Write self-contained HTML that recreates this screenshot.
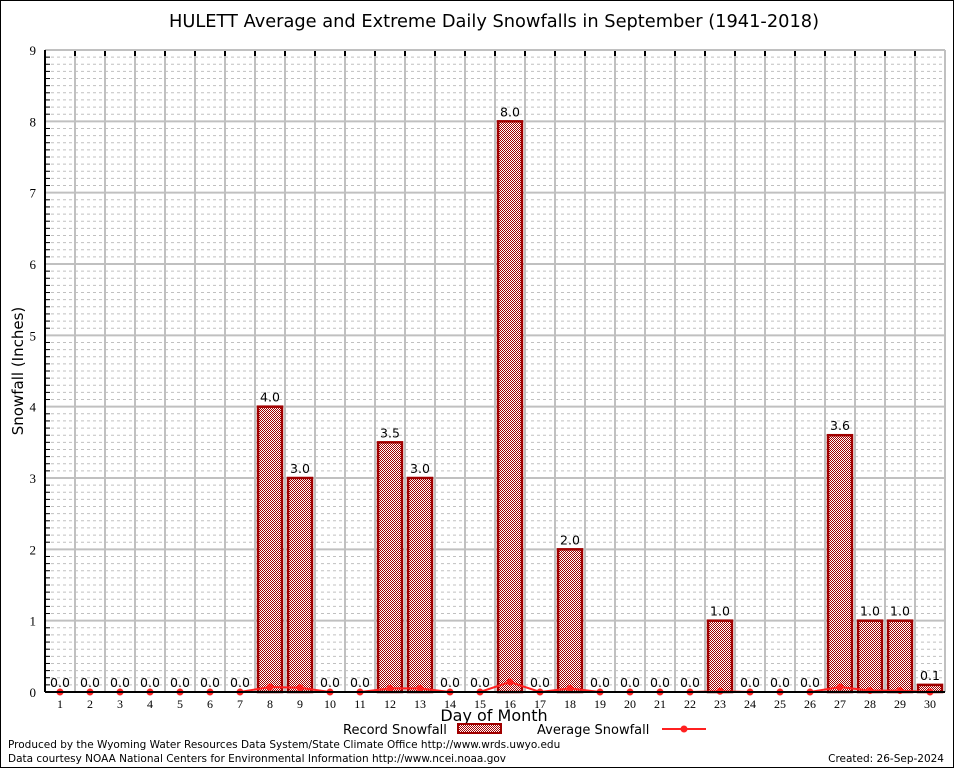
<!DOCTYPE html>
<html><head><meta charset="utf-8"><style>
body{margin:0;background:#fff}
svg{display:block;font-family:"DejaVu Sans","Liberation Sans",sans-serif}
</style></head><body>
<svg id="c" width="954" height="768">
<defs>
<pattern id="chk" width="2" height="2" patternUnits="userSpaceOnUse">
<rect width="2" height="2" fill="#fff"/><rect width="1" height="1" fill="#a00000"/><rect x="1" y="1" width="1" height="1" fill="#a00000"/>
</pattern>
</defs>
<rect x="0.5" y="0.5" width="953" height="767" fill="#fff" stroke="#000"/>
<text x="494" y="27" font-size="17.8" text-anchor="middle">HULETT Average and Extreme Daily Snowfalls in September (1941-2018)</text>
<g id="grid"></g>
<g id="bars"></g>
<g id="avg"></g>
<g id="axes"></g>
<text x="23" y="371" font-size="15" text-anchor="middle" transform="rotate(-90 23 371)">Snowfall (Inches)</text>
<text x="494" y="721" font-size="16" text-anchor="middle">Day of Month</text>
<g>
<text x="343" y="734" font-size="13">Record Snowfall</text>
<rect x="458" y="724" width="43" height="9" fill="url(#chk)" stroke="#a00000" stroke-width="2"/>
<text x="537" y="734" font-size="13">Average Snowfall</text>
<line x1="662" y1="729" x2="706" y2="729" stroke="#ff2020" stroke-width="2"/>
<circle cx="684" cy="729" r="3.5" fill="#ff2020"/>
</g>
<text x="8" y="748" font-size="10.5">Produced by the Wyoming Water Resources Data System/State Climate Office http://www.wrds.uwyo.edu</text>
<text x="8" y="762" font-size="10.5">Data courtesy NOAA National Centers for Environmental Information http://www.ncei.noaa.gov</text>
<text x="944" y="762" font-size="10.5" text-anchor="end">Created: 26-Sep-2024</text>
</svg>
<script>
const days=[1,2,3,4,5,6,7,8,9,10,11,12,13,14,15,16,17,18,19,20,21,22,23,24,25,26,27,28,29,30];
const recordSnow=[0,0,0,0,0,0,0,4.0,3.0,0,0,3.5,3.0,0,0,8.0,0,2.0,0,0,0,0,1.0,0,0,0,3.6,1.0,1.0,0.1];
const avgSnow=[0,0,0,0,0,0,0,0.07,0.06,0,0,0.05,0.05,0,0,0.14,0,0.05,0,0,0,0,0.01,0,0,0,0.07,0.02,0.02,0];
const yTicks=[0,1,2,3,4,5,6,7,8,9];
const PL=45,PR=945,PT=50,PB=692,YMAX=9;
const NS="http://www.w3.org/2000/svg";
const xs=d=>PL+(d-0.5)*(PR-PL)/days.length;
const ys=v=>PB-v*(PB-PT)/YMAX;
function mk(tag,attrs,parent,txt){const e=document.createElementNS(NS,tag);for(const k in attrs)e.setAttribute(k,attrs[k]);if(txt!==undefined)e.textContent=txt;document.getElementById(parent).appendChild(e);return e;}
for(let i=1;i<YMAX*10;i++){if(i%10===0)continue;const y=ys(i/10);
const g=mk('line',{x1:PL,x2:PR,y1:y,y2:y,stroke:'#c0c0c0','stroke-dasharray':'3,3','stroke-width':1},'grid');


const t=mk('line',{x1:PL,x2:PL+5,y1:y,y2:y,stroke:'#000'},'axes');

}
yTicks.forEach(v=>{const y=ys(v);
const g=mk('line',{x1:PL,x2:PR,y1:y,y2:y,stroke:'#c0c0c0','stroke-width':2},'grid');


const t=mk('text',{x:36,y:y+5,'font-size':13,'text-anchor':'end','font-family':'Liberation Serif, serif'},'axes',String(v));

});
for(let k=1;k<days.length;k++){const x=PL+k*(PR-PL)/days.length;
const g=mk('line',{x1:x,x2:x,y1:PT,y2:PB,stroke:'#c0c0c0','stroke-width':2},'grid');


const t=mk('line',{x1:x,x2:x,y1:PT,y2:PT+6,stroke:'#000','stroke-width':2},'axes');

}
mk('line',{x1:PR,x2:PR,y1:PT,y2:PB,stroke:'#c0c0c0','stroke-width':2},'grid');
days.forEach((d,i)=>{const v=recordSnow[i];const x=xs(d);
if(v>0){const b=mk('rect',{x:x-12,y:ys(v),width:24,height:PB-ys(v),fill:'url(#chk)',stroke:'#a00000','stroke-width':2.5},'bars');

}
const lb=mk('text',{x:x,y:ys(v)-5,'font-size':12.5,'text-anchor':'middle'},'bars',v.toFixed(1));


const xt=mk('text',{x:x,y:PB+16,'font-size':12,'text-anchor':'middle','font-family':'Liberation Serif, serif'},'axes',String(d));

});
const pts=days.map((d,i)=>xs(d)+','+ys(avgSnow[i])).join(' ');
const pl=mk('polyline',{points:pts,fill:'none',stroke:'#ff2020','stroke-width':2},'avg');


days.forEach((d,i)=>{const c=mk('circle',{cx:xs(d),cy:ys(avgSnow[i]),r:3.5,fill:'#ff2020'},'avg');

});
mk('line',{x1:PL,x2:PR,y1:PT,y2:PT,stroke:'#c0c0c0','stroke-width':2},'axes');
const yl=mk('line',{x1:PL,x2:PL,y1:PT,y2:PB,stroke:'#000','stroke-width':2},'axes');


const xl=mk('line',{x1:PL,x2:PR,y1:PB,y2:PB,stroke:'#000','stroke-width':2},'axes');


</script>
</body></html>
